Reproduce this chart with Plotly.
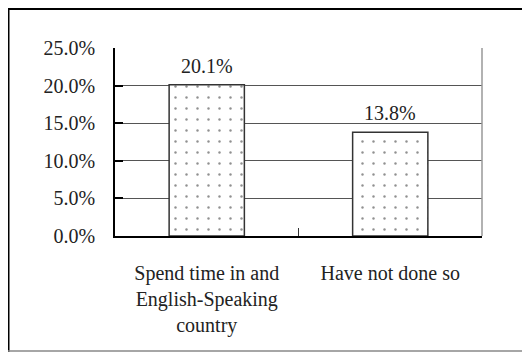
import plotly.graph_objects as go

categories = ["Spend time in and<br>English-Speaking<br>country", "Have not done so"]
values = [0.201, 0.138]
value_labels = ["20.1%", "13.8%"]

FONT = "Liberation Serif, Times New Roman, serif"

fig = go.Figure(go.Bar(
    x=categories, y=values,
    marker=dict(
        color="white",
        line=dict(color="#333", width=1.5),
        pattern=dict(shape=".", fgcolor="#222", bgcolor="white", size=11, solidity=0.04),
    ),
))

for c, v, t in zip(categories, values, value_labels):
    fig.add_annotation(x=c, y=v, text=t, showarrow=False, yanchor="bottom", yshift=6,
                       font=dict(family=FONT, size=20, color="#222"))

W, H = 530, 344
L, R, T, B = 107, 56, 40, 116
pw, ph = W - L - R, H - T - B

def px(x):
    return (x - L) / pw

def py(y):
    return (H - B - y) / ph

fig.update_layout(
    width=W, height=H,
    margin=dict(l=L, r=R, t=T, b=B, pad=0),
    paper_bgcolor="white", plot_bgcolor="white",
    showlegend=False,
    bargap=0.59,
    font=dict(family=FONT, size=20, color="#222"),
    xaxis=dict(
        showline=True, linecolor="black", linewidth=1.5,
        ticks="inside", tickson="boundaries", ticklen=8, tickcolor="#333",
        showgrid=False, ticklabelstandoff=18,
        tickfont=dict(family=FONT, size=20, color="#222"),
    ),
    yaxis=dict(
        range=[0, 0.25], dtick=0.05, tickformat=".1%",
        showline=True, linecolor="black", linewidth=1.5,
        ticks="inside", ticklen=8, tickcolor="black", tickwidth=2,
        showgrid=True, gridcolor="#555", gridwidth=1,
        zeroline=False, ticklabelstandoff=14,
        tickfont=dict(family=FONT, size=20, color="#222"),
    ),
    shapes=[
        dict(type="line", xref="paper", yref="paper", x0=1, x1=1, y0=0, y1=1,
             line=dict(color="#999", width=1.5)),
        dict(type="line", xref="paper", yref="paper", x0=px(0), x1=px(W), y0=py(1), y1=py(1),
             line=dict(color="black", width=2)),
        dict(type="line", xref="paper", yref="paper", x0=px(0.75), x1=px(0.75), y0=py(0), y1=py(H),
             line=dict(color="black", width=1.5)),
        dict(type="line", xref="paper", yref="paper", x0=px(0), x1=px(W), y0=py(343), y1=py(343),
             line=dict(color="#888", width=1.5)),
    ],
)

fig.write_html("out.html")
